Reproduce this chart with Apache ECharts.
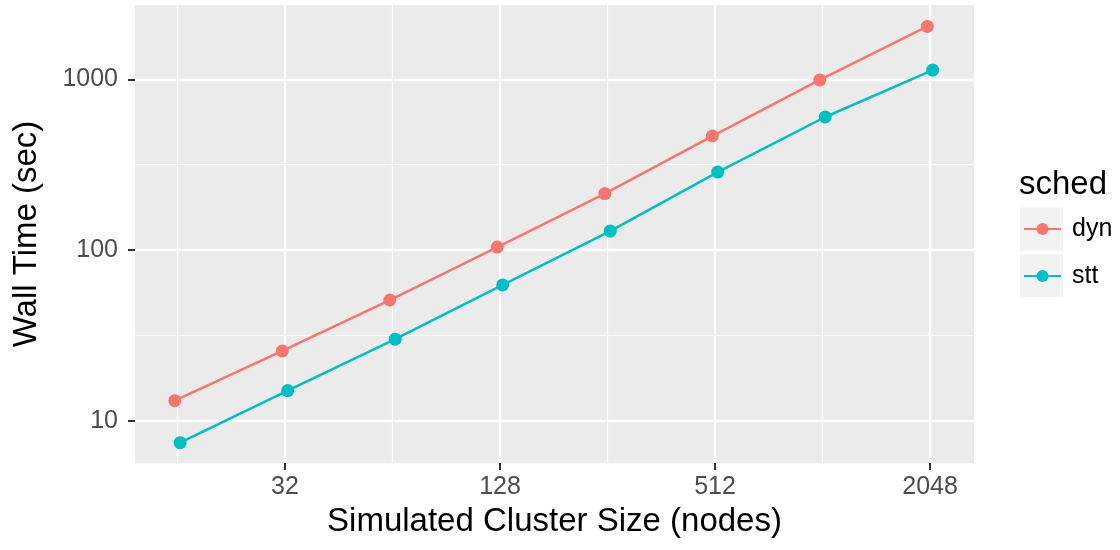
<!DOCTYPE html>
<html>
<head>
<meta charset="utf-8">
<script src="https://cdn.jsdelivr.net/npm/echarts@6/dist/echarts.min.js"></script>
<style>
  html, body { margin: 0; padding: 0; background: #ffffff; }
  #chart { width: 1120px; height: 550px; }
</style>
</head>
<body>
<div id="chart"></div>
<script>
// ---- data ----
const clusterSizes = [16, 32, 64, 128, 256, 512, 1024, 2048];
const dynTimes = [13.1, 25.6, 50.9, 104, 214, 465, 991, 2040];
const sttTimes = [7.43, 15.0, 30.0, 62.4, 129, 286, 601, 1132];
const seriesNames = ['dyn', 'stt'];
const xMajorTicks = [32, 128, 512, 2048];
const xMinorTicks = [16, 64, 256, 1024];
const yMajorTicks = [10, 100, 1000];
const yMinorTicks = [31.62, 316.2];

// ---- styling ----
const FONT = 'Liberation Sans, Arial, Helvetica, sans-serif';
const COLORS = ['#F8766D', '#00BFC4'];
const DODGE = 0.025; // position dodge in log2 units

function dodged(sizes, vals, shift) {
  return sizes.map((s, i) => [s * Math.pow(2, shift), vals[i]]);
}

const chart = echarts.init(document.getElementById('chart'), null, { renderer: 'canvas' });

const xMin = Math.pow(2, 3.605), xMax = Math.pow(2, 11.409);
const yMin = Math.pow(10, 0.752), yMax = Math.pow(10, 3.435);

const baseX = {
  type: 'log', logBase: 2, min: xMin, max: xMax,
  axisLine: { show: false }
};
const baseY = {
  type: 'log', logBase: 10, min: yMin, max: yMax,
  axisLine: { show: false }
};

const option = {
  backgroundColor: '#ffffff',
  animation: false,
  grid: {
    left: 135, top: 5, width: 839, height: 458,
    show: true, backgroundColor: '#EBEBEB', borderWidth: 0
  },
  xAxis: [
    Object.assign({}, baseX, {
      position: 'bottom',
      axisTick: { show: true, customValues: xMajorTicks, length: 7, lineStyle: { color: '#333333', width: 2 } },
      axisLabel: { show: true, customValues: xMajorTicks, margin: 12, color: '#4D4D4D', fontSize: 25, fontFamily: FONT,
        formatter: v => String(Math.round(v)) },
      splitLine: { show: true, lineStyle: { color: '#ffffff', width: 2.3 } },
      name: 'Simulated Cluster Size (nodes)', nameLocation: 'middle', nameGap: 42,
      nameTextStyle: { color: '#000000', fontSize: 33, fontFamily: FONT }
    }),
    Object.assign({}, baseX, {
      position: 'top',
      axisTick: { show: false, customValues: xMinorTicks },
      axisLabel: { show: false, customValues: xMinorTicks },
      splitLine: { show: true, lineStyle: { color: '#ffffff', width: 1.2 } }
    })
  ],
  yAxis: [
    Object.assign({}, baseY, {
      position: 'left',
      axisTick: { show: true, customValues: yMajorTicks, length: 7, lineStyle: { color: '#333333', width: 2 } },
      axisLabel: { show: true, customValues: yMajorTicks, margin: 17, color: '#4D4D4D', fontSize: 25, fontFamily: FONT,
        formatter: v => String(Math.round(v)) },
      splitLine: { show: true, lineStyle: { color: '#ffffff', width: 2.3 } },
      name: 'Wall Time (sec)', nameLocation: 'middle', nameGap: 92,
      nameTextStyle: { color: '#000000', fontSize: 33, fontFamily: FONT }
    }),
    Object.assign({}, baseY, {
      position: 'right',
      axisTick: { show: false, customValues: yMinorTicks },
      axisLabel: { show: false, customValues: yMinorTicks },
      splitLine: { show: true, lineStyle: { color: '#ffffff', width: 1.2 } }
    })
  ],
  legend: {
    orient: 'vertical', left: 1023, top: 216.5, padding: 0,
    itemWidth: 37, itemHeight: 15, itemGap: 22,
    data: seriesNames,
    textStyle: { color: '#000000', fontSize: 25, fontFamily: FONT, padding: [0, 0, 0, 6] }
  },
  graphic: [
    { type: 'rect', left: 1020, top: 207.5, shape: { width: 43, height: 43 }, style: { fill: '#F2F2F2' }, z: -1 },
    { type: 'rect', left: 1020, top: 254, shape: { width: 43, height: 43 }, style: { fill: '#F2F2F2' }, z: -1 },
    { type: 'text', left: 1019, top: 168, style: { text: 'sched', fill: '#000000', font: '33px ' + FONT } }
  ],
  series: [
    {
      name: seriesNames[0], type: 'line', xAxisIndex: 0, yAxisIndex: 0,
      data: dodged(clusterSizes, dynTimes, -DODGE),
      symbol: 'circle', symbolSize: 13,
      lineStyle: { color: COLORS[0], width: 2.5 },
      itemStyle: { color: COLORS[0] }
    },
    {
      name: seriesNames[1], type: 'line', xAxisIndex: 0, yAxisIndex: 0,
      data: dodged(clusterSizes, sttTimes, DODGE),
      symbol: 'circle', symbolSize: 13,
      lineStyle: { color: COLORS[1], width: 2.5 },
      itemStyle: { color: COLORS[1] }
    }
  ]
};

chart.setOption(option);
</script>
</body>
</html>
